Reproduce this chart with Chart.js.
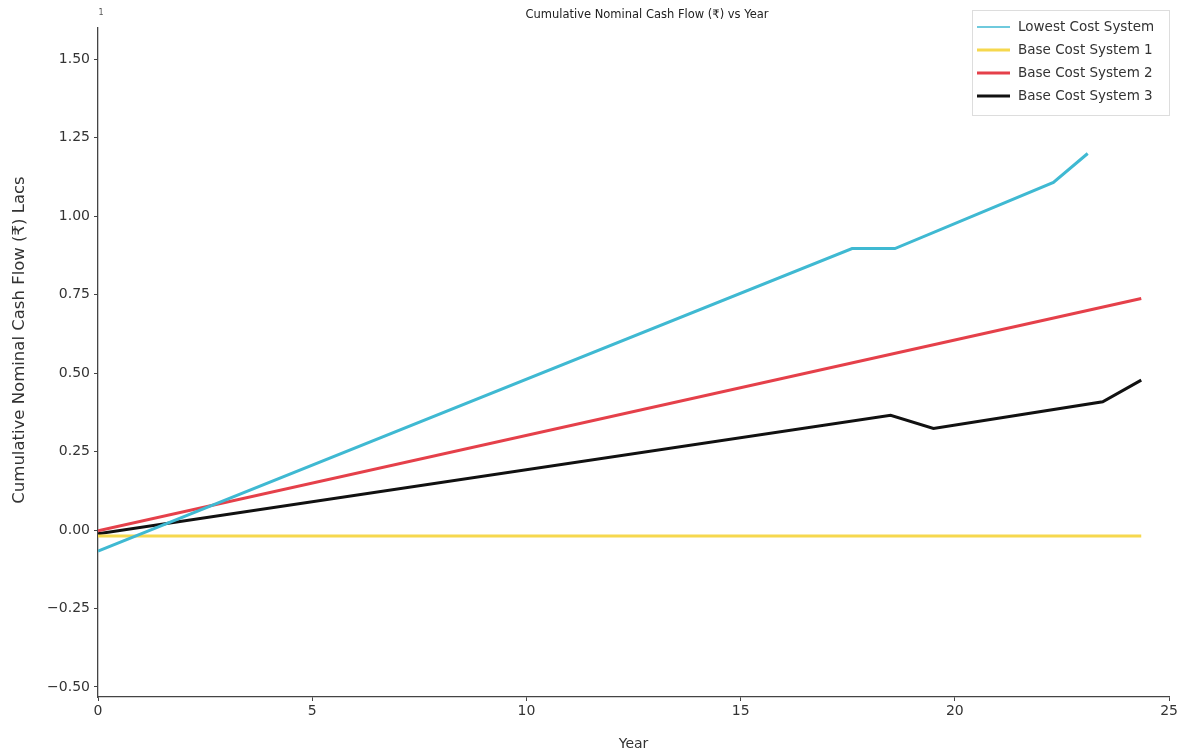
<!DOCTYPE html>
<html>
<head>
<meta charset="utf-8">
<script src="https://cdn.jsdelivr.net/npm/chart.js@4"></script>
<style>
html,body{margin:0;padding:0;background:#fff;}
#wrap{width:1180px;height:753px;}
</style>
</head>
<body>
<div id="wrap"><canvas id="c" width="1180" height="753"></canvas></div>
<script>
// ---- data ----
const seriesNames = ["Lowest Cost System", "Base Cost System 1", "Base Cost System 2", "Base Cost System 3"];
const lowestYears  = [0, 17.6, 18.6, 22.3, 23.1];
const lowestValues = [-0.067, 0.897, 0.897, 1.108, 1.200];
const base1Years   = [0, 24.35];
const base1Values  = [-0.019, -0.019];
const base2Years   = [0, 24.35];
const base2Values  = [-0.002, 0.738];
const base3Years   = [0, 18.5, 19.5, 23.45, 24.35];
const base3Values  = [-0.012, 0.366, 0.324, 0.409, 0.478];
const yTicks = [-0.5, -0.25, 0, 0.25, 0.5, 0.75, 1.0, 1.25, 1.5];
const xTicks = [0, 5, 10, 15, 20, 25];
const titleText = "Cumulative Nominal Cash Flow (₹) vs Year";
const xTitle = "Year";
const yTitle = "Cumulative Nominal Cash Flow (₹) Lacs";

const colors = ["#3fb9d2", "#f6d84e", "#e5404a", "#111111"];
const toPts = (xs, ys) => xs.map((x, i) => ({x: x, y: ys[i]}));
const seriesData = [
  toPts(lowestYears, lowestValues),
  toPts(base1Years, base1Values),
  toPts(base2Years, base2Values),
  toPts(base3Years, base3Values)
];

const FONT = "'DejaVu Sans', sans-serif";

const extras = {
  id: 'extras',
  afterDraw(chart) {
    const ctx = chart.ctx;
    const ca = chart.chartArea;
    ctx.save();
    // title
    ctx.fillStyle = '#222';
    ctx.font = "11.5px " + FONT;
    ctx.textAlign = 'center';
    ctx.textBaseline = 'middle';
    ctx.fillText(titleText, 647, 15);
    // small offset text at top of y axis
    ctx.font = "8px " + FONT;
    ctx.fillStyle = '#555';
    ctx.fillText("1", ca.left + 3, 13);
    // y axis title
    ctx.save();
    ctx.translate(20, 340);
    ctx.rotate(-Math.PI / 2);
    ctx.font = "16.5px " + FONT;
    ctx.fillStyle = '#333';
    ctx.fillText(yTitle, 0, 0);
    ctx.restore();
    // legend
    const bx = 972, by = 10, bw = 198, bh = 106;
    ctx.fillStyle = 'rgba(255,255,255,0.85)';
    ctx.fillRect(bx, by, bw, bh);
    ctx.strokeStyle = '#dddddd';
    ctx.lineWidth = 1;
    ctx.strokeRect(bx + 0.5, by + 0.5, bw - 1, bh - 1);
    ctx.font = "13.5px " + FONT;
    ctx.textAlign = 'left';
    chart.data.datasets.forEach((ds, i) => {
      const y = by + 17 + i * 23;
      ctx.strokeStyle = ds.borderColor;
      ctx.lineWidth = i === 0 ? 1.5 : 3;
      ctx.beginPath();
      ctx.moveTo(bx + 5, y);
      ctx.lineTo(bx + 38, y);
      ctx.stroke();
      ctx.fillStyle = '#333';
      ctx.fillText(ds.label, bx + 46, y);
    });
    ctx.restore();
  }
};

new Chart(document.getElementById('c'), {
  type: 'line',
  data: {
    datasets: seriesNames.map((n, i) => ({
      label: n,
      data: seriesData[i],
      borderColor: colors[i],
      backgroundColor: colors[i],
      borderWidth: 3,
      pointRadius: 0,
      tension: 0,
      fill: false
    }))
  },
  options: {
    responsive: false,
    animation: false,
    layout: {padding: {top: 28, right: 10, left: 0, bottom: 0}},
    plugins: {
      legend: {display: false},
      title: {display: false},
      tooltip: {enabled: false}
    },
    scales: {
      x: {
        type: 'linear',
        min: 0, max: 25,
        afterBuildTicks: s => { s.ticks = xTicks.map(v => ({value: v})); },
        afterFit: s => { s.height = 56; },
        grid: {display: true, drawOnChartArea: false, drawTicks: true, tickLength: 4, color: '#444'},
        border: {display: true, color: '#444', width: 1.3},
        ticks: {color: '#333', font: {family: FONT, size: 14}, padding: 2,
                callback: v => String(v)},
        title: {display: true, text: xTitle, color: '#333', font: {family: FONT, size: 14}, padding: {top: 2, bottom: 0}}
      },
      y: {
        type: 'linear',
        min: -0.532, max: 1.6,
        afterBuildTicks: s => { s.ticks = yTicks.map(v => ({value: v})); },
        afterFit: s => { s.width = 98; },
        grid: {display: true, drawOnChartArea: false, drawTicks: true, tickLength: 4, color: '#444'},
        border: {display: true, color: '#444', width: 1.3},
        ticks: {color: '#333', font: {family: FONT, size: 14}, padding: 4,
                callback: v => (v < 0 ? '\u22120' + Math.abs(v).toFixed(2).slice(1) : v.toFixed(2))},
        title: {display: false}
      }
    }
  },
  plugins: [extras]
});
</script>
</body>
</html>
